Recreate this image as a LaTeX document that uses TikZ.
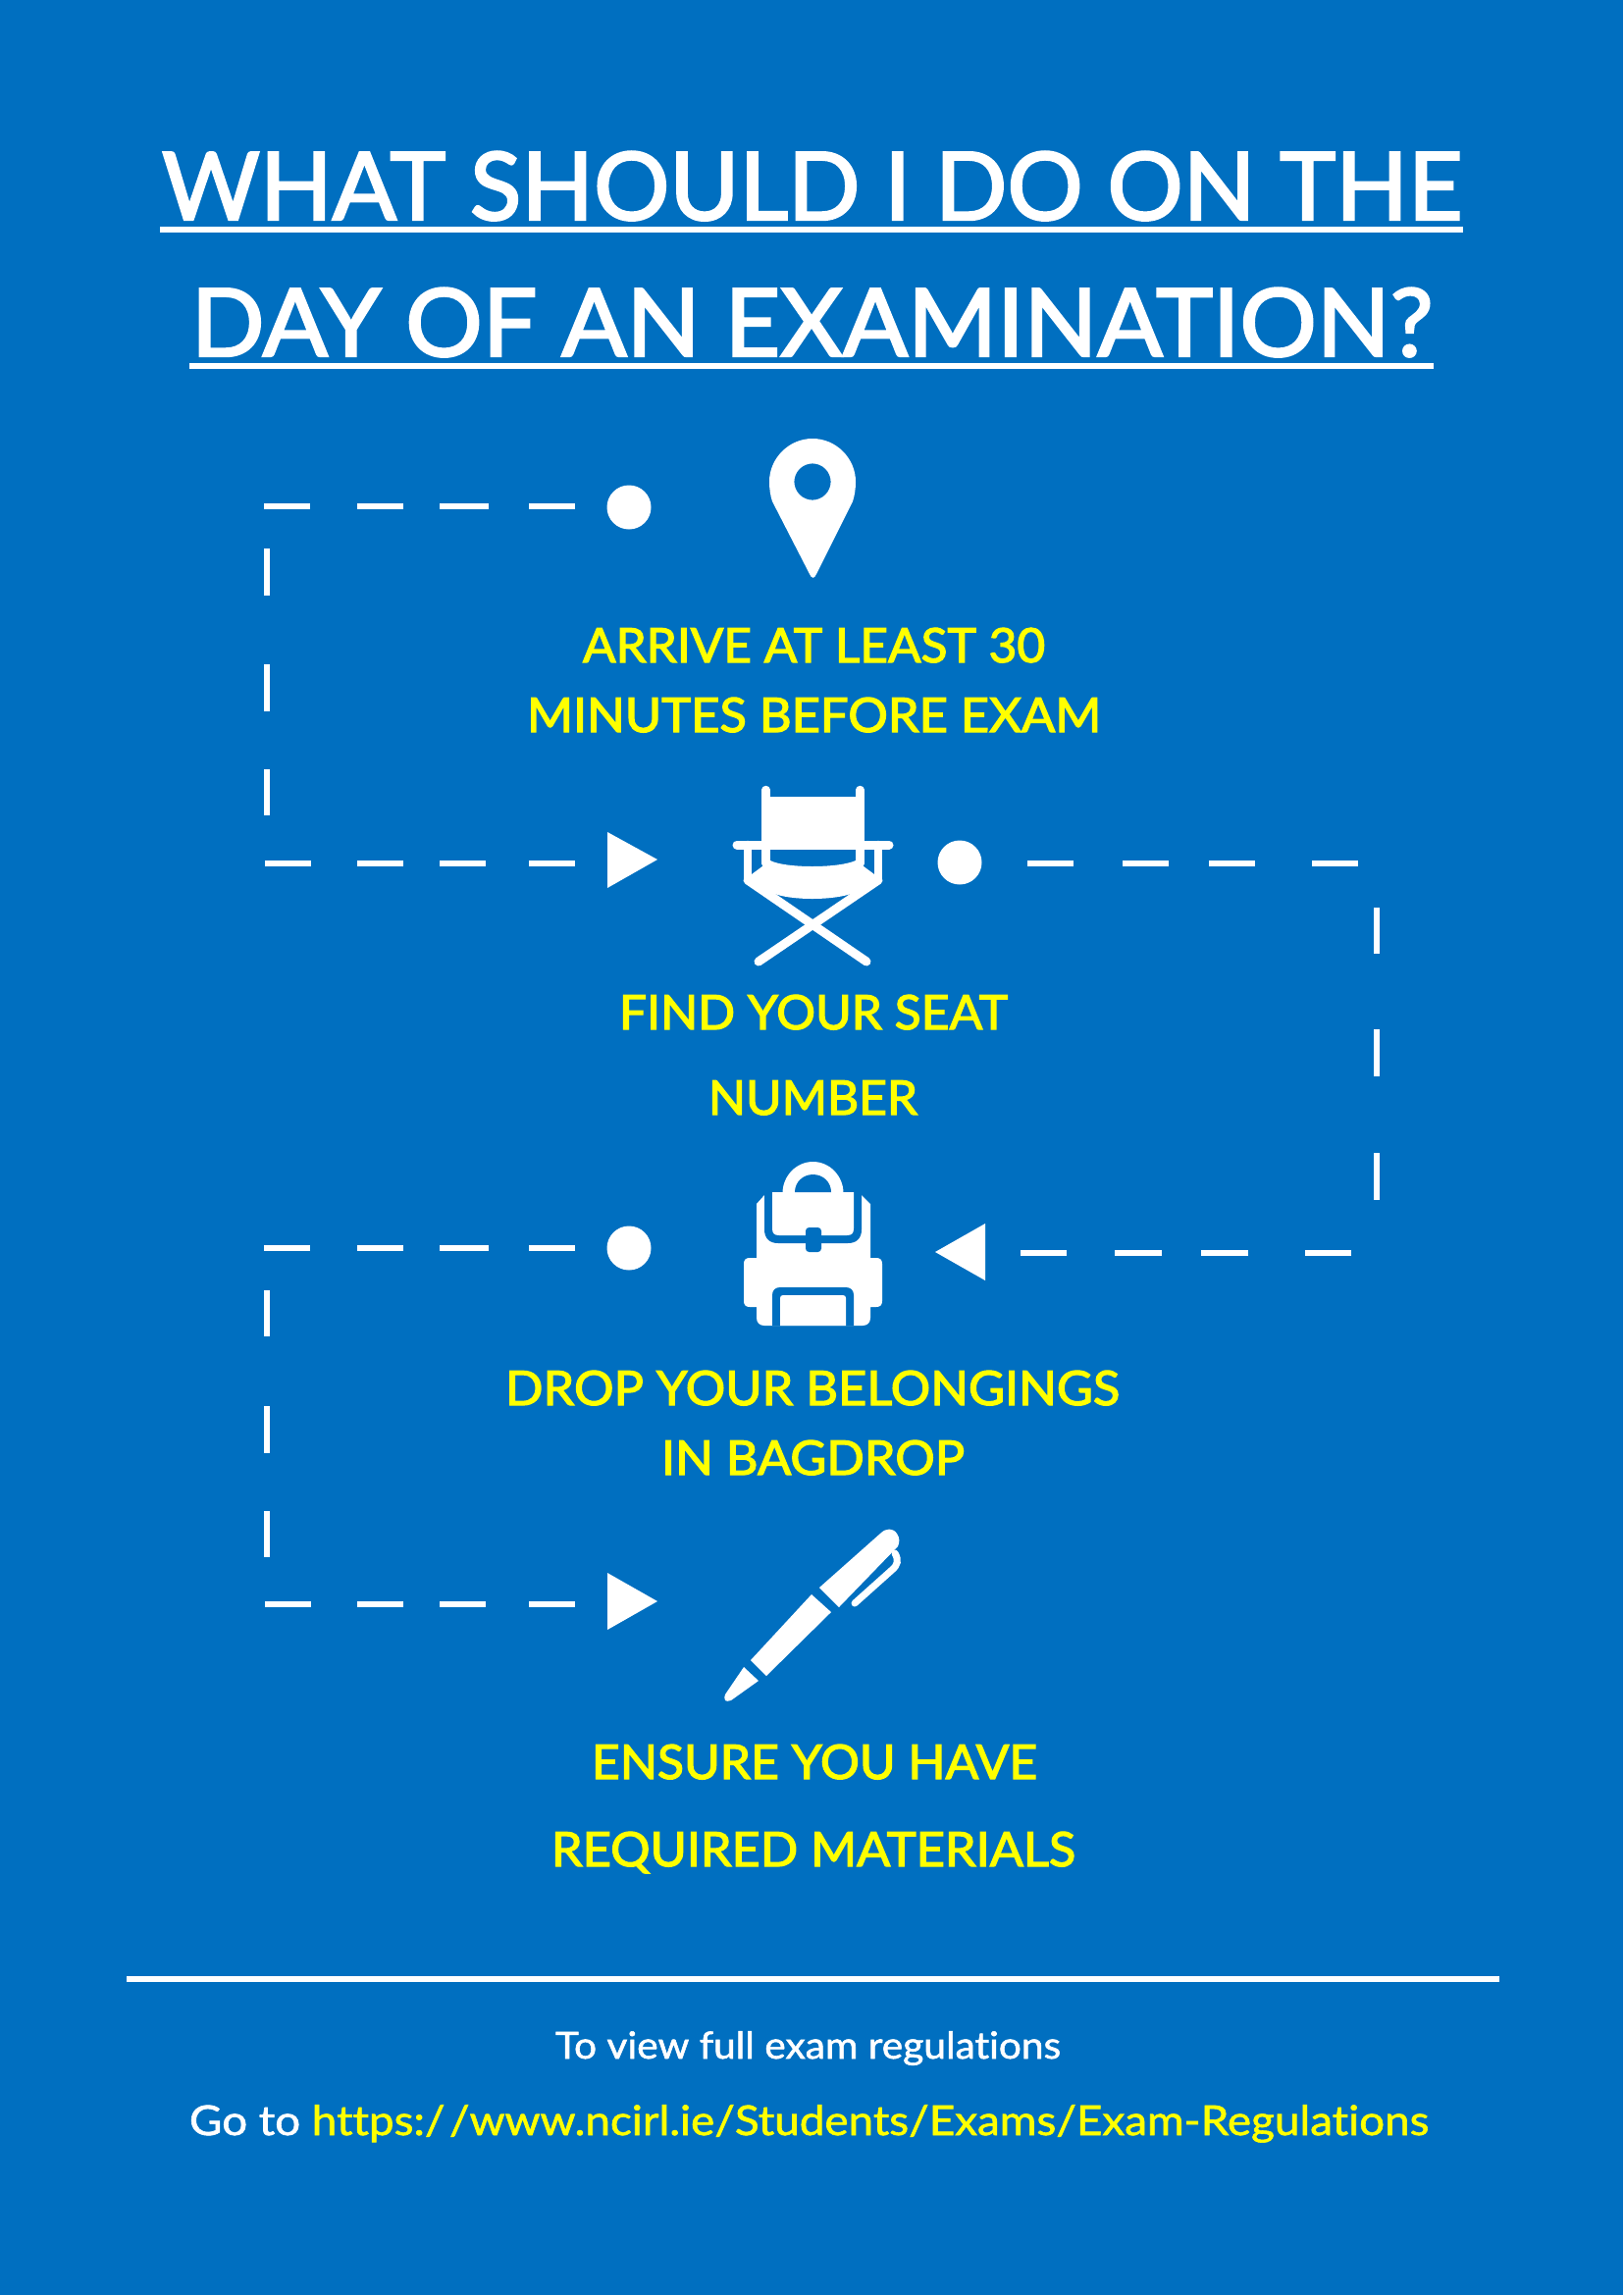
\documentclass[tikz,border=0pt]{standalone}
\usepackage{fontspec}
\usepackage{graphicx}
\setmainfont{Lato}
\newfontfamily\medfont[FakeBold=2.5,Ligatures=NoCommon]{Lato}
\newfontfamily\footfont[FakeBold=1.4,Ligatures=NoCommon]{Lato}
\definecolor{bgblue}{HTML}{006FC0}
\definecolor{txtyellow}{HTML}{FFFF00}
\newcommand\fitw[2]{\resizebox{#1pt}{\height}{#2}}
\tikzset{
  txt/.style={anchor=base west,inner sep=0pt,outer sep=0pt},
  titletxt/.style={txt,white,font=\medfont\fontsize{96}{96}\selectfont},
  steptxt/.style={txt,txtyellow,font=\medfont\fontsize{48.5}{48.5}\selectfont},
  foottxt/.style={txt,white,font=\footfont\fontsize{38}{38}\selectfont},
  dotnode/.style={circle,fill=white,inner sep=0pt,minimum size=45pt},
  dashline/.style={white,line width=6.5pt,line cap=butt},
  rulestyle/.style={white,line width=6pt},
}
\begin{document}
\begin{tikzpicture}[x=1pt,y=-1pt]
\useasboundingbox (0,0) rectangle (1654,2339);
\fill[bgblue] (0,0) rectangle (1654,2339);

% title
\node[titletxt] (t1) at (165,224) {\fitw{1325}{WHAT SHOULD I DO ON THE}};
\node[titletxt] (t2) at (195,363) {\fitw{1265}{DAY OF AN EXAMINATION?}};
\coordinate (u1a) at (163,234); \coordinate (u1b) at (1491,234);
\coordinate (u2a) at (193,373); \coordinate (u2b) at (1461,373);
\draw[rulestyle] (u1a) -- (u1b);
\draw[rulestyle] (u2a) -- (u2b);

% step texts
\node[steptxt] (s1a) at (594,675) {\fitw{471}{ARRIVE AT LEAST 30}};
\node[steptxt] (s1b) at (537,746) {\fitw{585}{MINUTES BEFORE EXAM}};
\node[steptxt] (s2a) at (631,1049) {\fitw{396}{FIND YOUR SEAT}};
\node[steptxt] (s2b) at (722,1136) {\fitw{213}{NUMBER}};
\node[steptxt] (s3a) at (515,1432) {\fitw{626}{DROP YOUR BELONGINGS}};
\node[steptxt] (s3b) at (674,1503) {\fitw{309}{IN BAGDROP}};
\node[steptxt] (s4a) at (603,1813) {\fitw{454}{ENSURE YOU HAVE}};
\node[steptxt] (s4b) at (562,1902) {\fitw{534}{REQUIRED MATERIALS}};

% footer
\coordinate (ra) at (129,2017); \coordinate (rb) at (1528,2017);
\draw[rulestyle] (ra) -- (rb);
\node[foottxt] (f1) at (566,2098) {\fitw{515}{To view full exam regulations}};
\node[foottxt,font=\footfont\fontsize{42}{42}\selectfont] (f2) at (193,2176) {\fitw{1263}{Go to \textcolor{txtyellow}{https:/\kern4pt/www.ncirl.ie/Students/Exams/Exam-Regulations}}};

% dots and arrowheads
\node[dotnode] (dot1) at (641,517) {};
\node[dotnode] (dot2) at (978,879) {};
\node[dotnode] (dot3) at (641,1272) {};
\coordinate (tri1) at (619,880);
\coordinate (tri2) at (1004,1277);
\coordinate (tri3) at (619,1635);
\fill[white] (619,848) -- (670,876) -- (619,905) -- cycle;
\fill[white] (1004,1247) -- (953,1276) -- (1004,1305) -- cycle;
\fill[white] (619,1603) -- (670,1632) -- (619,1661) -- cycle;

% connector 1
\coordinate (a1) at (269,516); \coordinate (a1s) at (641,516);
\coordinate (a2) at (272,559); \coordinate (a3) at (272,831);
\coordinate (a4) at (270,880);
\draw[dashline,dash pattern=on 0pt off 55pt on 47pt off 41pt on 50pt off 37pt on 47pt off 48pt on 47pt off 20pt] (a1s) -- (a1);
\draw[dashline,line width=6pt,dash pattern=on 48pt off 70pt on 48pt off 59pt on 47pt off 20pt] (a2) -- (a3);
\draw[dashline,dash pattern=on 47pt off 47pt on 47pt off 37pt on 47pt off 44pt on 47pt off 33pt] (a4) -- (tri1);

% connector 2
\coordinate (b0) at (978,880); \coordinate (b1) at (1384,880);
\coordinate (b2) at (1403,925); \coordinate (b3) at (1403,1223);
\coordinate (b4) at (1377,1277);
\draw[dashline,dash pattern=on 0pt off 69pt on 47pt off 50pt on 47pt off 41pt on 47pt off 58pt on 47pt off 20pt] (b0) -- (b1);
\draw[dashline,line width=6pt,dash pattern=on 47pt off 77pt on 48pt off 78pt on 48pt off 20pt] (b2) -- (b3);
\draw[dashline,dash pattern=on 47pt off 58pt on 48pt off 40pt on 48pt off 49pt on 47pt off 36pt] (b4) -- (tri2);

% connector 3
\coordinate (c0) at (641,1272); \coordinate (c1) at (269,1272);
\coordinate (c2) at (272,1315); \coordinate (c3) at (272,1587);
\coordinate (c4) at (270,1635);
\draw[dashline,dash pattern=on 0pt off 55pt on 47pt off 41pt on 50pt off 37pt on 47pt off 48pt on 47pt off 20pt] (c0) -- (c1);
\draw[dashline,line width=6pt,dash pattern=on 47pt off 71pt on 48pt off 59pt on 47pt off 20pt] (c2) -- (c3);
\draw[dashline,dash pattern=on 47pt off 47pt on 47pt off 37pt on 47pt off 44pt on 47pt off 33pt] (c4) -- (tri3);

% pin icon
\fill[white,even odd rule] (787,511) .. controls (785,505) and (784,498) .. (784,491)
  .. controls (784,467) and (804,447) .. (828,447)
  .. controls (852,447) and (872,467) .. (872,491)
  .. controls (872,498) and (871,505) .. (869,511)
  -- (832,585) .. controls (830,590) and (827,590) .. (825,585) -- cycle
  (828,491) circle[radius=18.6pt];

% chair icon
\begin{scope}[white,line cap=round]
  \fill (785,812) rectangle (872,861);
  \draw[line width=8.5pt] (780.5,805) -- (780.5,880);
  \draw[line width=8.5pt] (876.5,805) -- (876.5,880);
  \draw[line width=9pt] (751,861) -- (906,861);
  \draw[line width=8.5pt] (762,861) -- (762,897);
  \draw[line width=8.5pt] (895,861) -- (895,897);
  \fill (758,897) -- (785,877) .. controls (800,885) and (855,885) .. (872,877) -- (899,897)
     -- (870,910) .. controls (850,918) and (805,918) .. (787,910) -- cycle;
  \draw[line width=9pt] (762,897) -- (883,980);
  \draw[line width=9pt] (895,897) -- (773,980);
\end{scope}

% backpack icon
\begin{scope}
  \fill[white] (779,1218) -- (771,1227) -- (771,1282) -- (764,1282)
     .. controls (760,1282) and (758,1284) .. (758,1288) -- (758,1326)
     .. controls (758,1330) and (760,1332) .. (764,1332) -- (771,1332) -- (771,1343)
     .. controls (771,1348) and (774,1351) .. (779,1351)
     -- (879,1351) .. controls (884,1351) and (887,1348) .. (887,1343) -- (887,1332) -- (893,1332)
     .. controls (897,1332) and (899,1330) .. (899,1326) -- (899,1288)
     .. controls (899,1284) and (897,1282) .. (893,1282) -- (887,1282) -- (887,1227) -- (878,1218) -- cycle;
  \fill[bgblue] (779,1210) -- (779,1253) .. controls (779,1262) and (784,1267) .. (793,1267)
     -- (864,1267) .. controls (873,1267) and (878,1262) .. (878,1253) -- (878,1210) -- cycle;
  \fill[white] (787,1215) -- (870,1215) -- (870,1252) .. controls (870,1257) and (868,1259) .. (863,1259)
     -- (794,1259) .. controls (789,1259) and (787,1257) .. (787,1252) -- cycle;
  \fill[white] (797.5,1216) .. controls (797.5,1199) and (811,1184) .. (828.5,1184)
     .. controls (846,1184) and (859.5,1199) .. (859.5,1216) -- cycle;
  \fill[bgblue] (810,1215) .. controls (810,1205) and (818,1197) .. (828.5,1197)
     .. controls (839,1197) and (847,1205) .. (847,1215) -- cycle;
  \fill[bgblue,rounded corners=3.5pt] (821,1251) rectangle (837,1276);
  \fill[bgblue] (787,1351) -- (787,1320) .. controls (787,1315) and (790,1312) .. (795,1312)
     -- (862,1312) .. controls (867,1312) and (870,1315) .. (870,1320) -- (870,1351) -- cycle;
  \fill[white] (795,1351) -- (795,1323) .. controls (795,1321) and (796,1320) .. (798,1320)
     -- (859,1320) .. controls (861,1320) and (862,1321) .. (862,1323) -- (862,1351) -- cycle;
\end{scope}

% pen icon
\begin{scope}[white]
  \fill (758,1699) -- (773,1713) -- (745,1733) .. controls (742,1734) and (740,1734) .. (739,1733)
     .. controls (738,1731) and (738,1729) .. (739,1727) -- cycle;
  \fill (765,1692) -- (827,1625) -- (847,1643) -- (781,1708) -- cycle;
  \fill (835,1618) -- (897,1563) .. controls (903,1557) and (910,1557) .. (914,1563)
     .. controls (917,1567) and (917,1572) .. (915,1576) -- (855,1638) -- cycle;
  \draw[line width=7pt,line cap=round] (912,1583) .. controls (916,1590) and (915,1595) .. (909,1600) -- (871,1634);
\end{scope}
\end{tikzpicture}
\end{document}
